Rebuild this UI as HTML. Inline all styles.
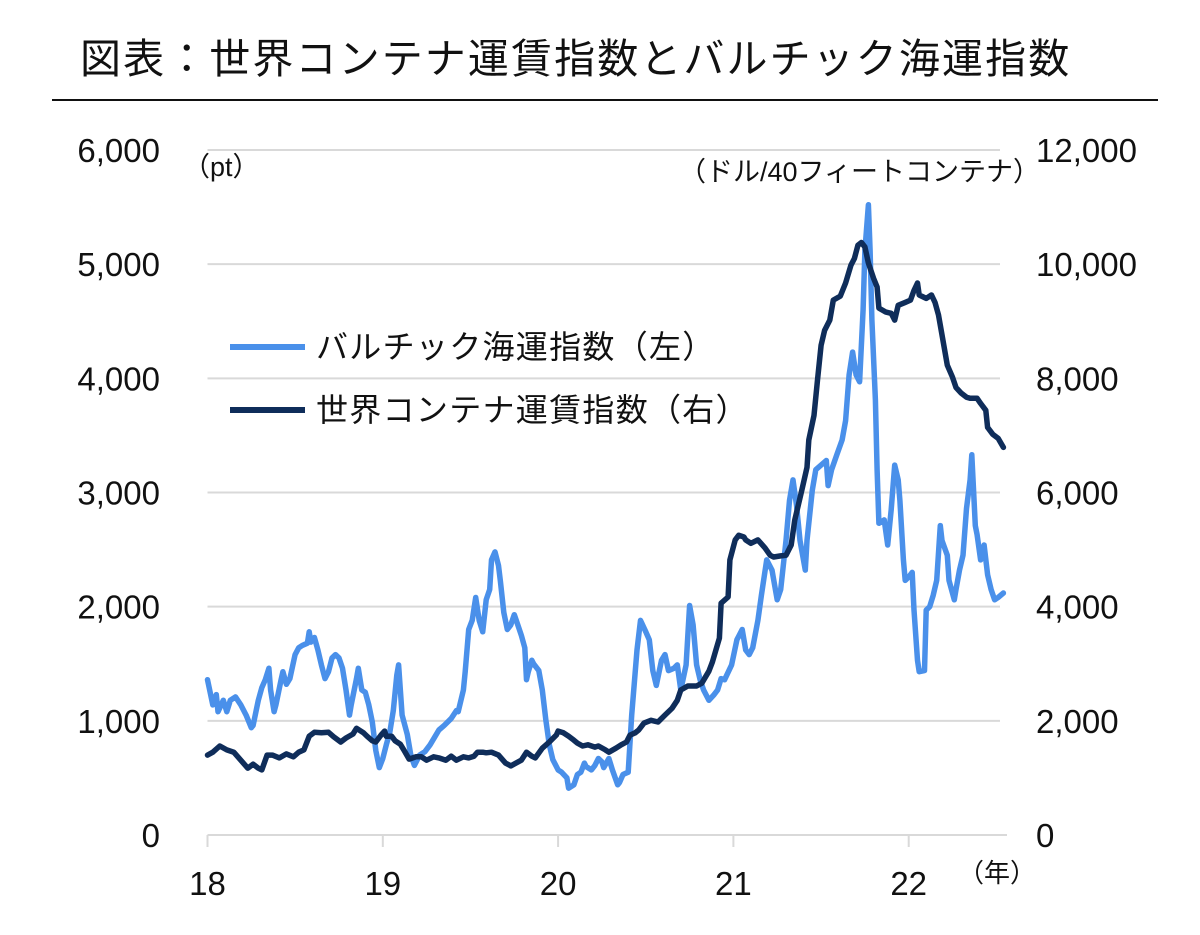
<!DOCTYPE html>
<html><head><meta charset="utf-8">
<style>
html,body{margin:0;padding:0;background:#fff;}
svg{display:block;font-family:"Liberation Sans","Noto Sans CJK JP",sans-serif;}
</style></head>
<body>
<svg id="chart" width="1200" height="935" viewBox="0 0 1200 935" xmlns="http://www.w3.org/2000/svg">
<text x="80" y="73" font-size="41" letter-spacing="2.1" fill="#111">図表：世界コンテナ運賃指数とバルチック海運指数</text>
<line x1="52" y1="100" x2="1158" y2="100" stroke="#111" stroke-width="2"/>
<g id="grid"></g>
<g id="axes"></g>
<text x="183" y="176" font-size="27" fill="#111">（pt）</text>
<text x="1040" y="181" font-size="27" fill="#111" text-anchor="end">（ドル/40フィートコンテナ）</text>
<text x="958" y="882" font-size="26" fill="#111">（年）</text>
<g id="series"></g>
<g>
<line x1="230" y1="347" x2="305" y2="347" stroke="#4a90ea" stroke-width="6"/>
<text x="316" y="358" font-size="32" letter-spacing="1.3" fill="#111">バルチック海運指数（左）</text>
<line x1="230" y1="410" x2="305" y2="410" stroke="#0f2d5a" stroke-width="6"/>
<text x="316" y="421" font-size="32" letter-spacing="1.3" fill="#111">世界コンテナ運賃指数（右）</text>
</g>
</svg>
<script>
const leftTicks=[0,1000,2000,3000,4000,5000,6000];
const rightTicks=[0,2000,4000,6000,8000,10000,12000];
const yearTicks=[18,19,20,21,22];
const bdiDates=[18.00,18.03,18.05,18.06,18.09,18.11,18.13,18.16,18.19,18.22,18.25,18.26,18.29,18.31,18.33,18.35,18.36,18.38,18.39,18.42,18.43,18.45,18.47,18.50,18.52,18.54,18.57,18.58,18.59,18.61,18.63,18.65,18.67,18.69,18.71,18.73,18.75,18.77,18.79,18.81,18.82,18.85,18.86,18.88,18.90,18.92,18.94,18.96,18.98,19.00,19.02,19.04,19.06,19.08,19.09,19.11,19.14,19.16,19.18,19.21,19.24,19.27,19.32,19.35,19.39,19.42,19.43,19.46,19.47,19.49,19.51,19.53,19.55,19.57,19.59,19.61,19.62,19.64,19.66,19.67,19.69,19.71,19.73,19.75,19.77,19.79,19.81,19.82,19.83,19.85,19.86,19.89,19.91,19.93,19.95,19.97,20.00,20.02,20.05,20.06,20.09,20.11,20.13,20.15,20.16,20.19,20.21,20.23,20.25,20.26,20.29,20.31,20.34,20.35,20.37,20.40,20.42,20.45,20.47,20.50,20.52,20.54,20.56,20.59,20.61,20.63,20.66,20.68,20.70,20.73,20.75,20.77,20.79,20.81,20.83,20.86,20.89,20.91,20.93,20.95,20.99,21.02,21.05,21.07,21.09,21.11,21.14,21.16,21.19,21.22,21.25,21.27,21.30,21.32,21.34,21.36,21.38,21.41,21.42,21.45,21.47,21.50,21.53,21.54,21.56,21.59,21.62,21.64,21.66,21.68,21.70,21.72,21.74,21.75,21.77,21.78,21.79,21.81,21.82,21.83,21.86,21.88,21.90,21.92,21.94,21.95,21.97,21.98,22.00,22.02,22.03,22.05,22.06,22.09,22.10,22.12,22.14,22.16,22.18,22.19,22.22,22.23,22.26,22.27,22.29,22.31,22.33,22.35,22.36,22.38,22.39,22.41,22.43,22.45,22.47,22.49,22.51,22.54];
const bdiValues=[1360,1140,1230,1080,1180,1080,1180,1210,1140,1050,940,960,1180,1290,1360,1460,1270,1080,1140,1360,1430,1320,1370,1580,1640,1660,1680,1780,1690,1730,1620,1490,1370,1430,1550,1580,1550,1460,1270,1050,1140,1370,1460,1270,1250,1140,990,740,590,670,790,900,1090,1400,1490,1050,880,700,610,700,730,790,920,960,1020,1090,1080,1270,1430,1800,1880,2080,1880,1780,2060,2150,2410,2480,2360,2230,1950,1800,1840,1930,1840,1750,1640,1360,1430,1530,1500,1440,1270,1010,790,660,570,550,500,410,440,530,550,630,600,570,610,670,640,590,670,570,440,460,530,550,1050,1620,1880,1780,1710,1440,1310,1530,1580,1440,1460,1490,1270,1490,2010,1840,1490,1360,1270,1180,1230,1270,1370,1360,1490,1710,1800,1620,1580,1640,1880,2100,2410,2320,2060,2150,2580,2930,3110,2890,2580,2320,2580,3020,3200,3240,3280,3060,3200,3330,3460,3630,4030,4230,4030,3970,4600,5120,5520,5120,4510,3810,3200,2730,2760,2540,2850,3240,3110,2930,2410,2230,2260,2300,1970,1530,1430,1440,1970,2000,2100,2230,2710,2580,2450,2230,2060,2150,2320,2450,2860,3110,3330,2710,2630,2410,2540,2280,2150,2060,2080,2120];
const wciDates=[18.00,18.03,18.07,18.11,18.15,18.19,18.23,18.26,18.29,18.31,18.34,18.37,18.41,18.45,18.49,18.52,18.55,18.58,18.61,18.65,18.69,18.72,18.76,18.79,18.83,18.85,18.89,18.91,18.94,18.96,18.99,19.01,19.02,19.05,19.07,19.10,19.12,19.15,19.19,19.22,19.25,19.29,19.32,19.36,19.39,19.42,19.46,19.49,19.52,19.54,19.57,19.59,19.62,19.66,19.70,19.73,19.76,19.79,19.82,19.85,19.87,19.91,19.95,19.99,20.00,20.03,20.06,20.09,20.11,20.14,20.17,20.21,20.23,20.27,20.29,20.33,20.36,20.39,20.41,20.44,20.46,20.49,20.53,20.57,20.61,20.65,20.68,20.70,20.74,20.79,20.82,20.86,20.88,20.90,20.92,20.93,20.97,20.98,21.01,21.03,21.06,21.07,21.10,21.14,21.18,21.21,21.23,21.27,21.30,21.33,21.35,21.37,21.39,21.42,21.43,21.46,21.48,21.50,21.52,21.55,21.57,21.61,21.64,21.67,21.69,21.71,21.73,21.75,21.77,21.80,21.82,21.83,21.87,21.90,21.92,21.94,21.98,22.01,22.03,22.05,22.06,22.10,22.13,22.15,22.17,22.19,22.22,22.25,22.27,22.30,22.33,22.35,22.39,22.41,22.44,22.45,22.48,22.51,22.54];
const wciValues=[1400,1450,1560,1490,1450,1310,1170,1240,1170,1140,1400,1400,1350,1420,1370,1450,1490,1730,1800,1790,1800,1720,1630,1700,1770,1870,1790,1730,1650,1630,1750,1820,1730,1730,1650,1590,1490,1330,1370,1370,1310,1370,1350,1310,1380,1310,1370,1350,1380,1450,1450,1440,1450,1400,1260,1210,1260,1310,1450,1380,1350,1520,1630,1750,1820,1790,1730,1660,1610,1560,1580,1540,1560,1490,1450,1520,1580,1630,1750,1790,1840,1960,2010,1980,2100,2220,2360,2540,2610,2610,2660,2870,3030,3240,3450,4060,4170,4820,5170,5250,5220,5170,5110,5170,5030,4900,4870,4890,4900,5080,5520,5780,6040,6440,6920,7350,7970,8580,8840,9020,9370,9440,9670,9980,10100,10330,10380,10300,10020,9750,9600,9230,9160,9140,9020,9280,9330,9370,9540,9670,9460,9400,9460,9330,9110,8760,8230,8020,7840,7740,7670,7650,7650,7560,7440,7140,7020,6950,6790];

const NS='http://www.w3.org/2000/svg';
const X0=207.5,YR=175.3,Y0=835,PH=685;
function xs(t){return X0+(t-18)*YR;}
function yl(v){return Y0-v/6000*PH;}
function yr(v){return Y0-v/12000*PH;}
function mk(tag,attrs,parent,txt){const e=document.createElementNS(NS,tag);for(const k in attrs)e.setAttribute(k,attrs[k]);if(txt!==undefined)e.textContent=txt;parent.appendChild(e);return e;}
const grid=document.getElementById('grid'),axes=document.getElementById('axes'),series=document.getElementById('series');
leftTicks.forEach((v,i)=>{
  if(i>0){const g=mk('line',{x1:X0,x2:1000,y1:yl(v),y2:yl(v),stroke:'#d9d9d9','stroke-width':2},grid);
  
  }
  const t=mk('text',{x:160,y:yl(v)+12,'font-size':33,'text-anchor':'end',fill:'#111'},axes,v.toLocaleString('en-US'));
  
  
});
rightTicks.forEach(v=>{
  const t=mk('text',{x:1036,y:yr(v)+12,'font-size':33,fill:'#111'},axes,v.toLocaleString('en-US'));
  
  
});
const ax=mk('line',{x1:X0,x2:1007,y1:Y0,y2:Y0,stroke:'#d9d9d9','stroke-width':2},axes);


yearTicks.forEach(y=>{
  const tk=mk('line',{x1:xs(y),x2:xs(y),y1:Y0,y2:Y0+12,stroke:'#d9d9d9','stroke-width':2},axes);
  
  
  const t=mk('text',{x:xs(y),y:895,'font-size':33,'text-anchor':'middle',fill:'#111'},axes,String(y));
  
  
});
function path(dates,vals,yf){return dates.map((d,i)=>(i?'L':'M')+xs(d).toFixed(1)+','+yf(vals[i]).toFixed(1)).join('');}
const pb=mk('path',{d:path(bdiDates,bdiValues,yl),fill:'none',stroke:'#4a90ea','stroke-width':5.5,'stroke-linejoin':'round','stroke-linecap':'round'},series);


const pw=mk('path',{d:path(wciDates,wciValues,yr),fill:'none',stroke:'#0f2d5a','stroke-width':5.5,'stroke-linejoin':'round','stroke-linecap':'round'},series);


</script>
</body></html>
